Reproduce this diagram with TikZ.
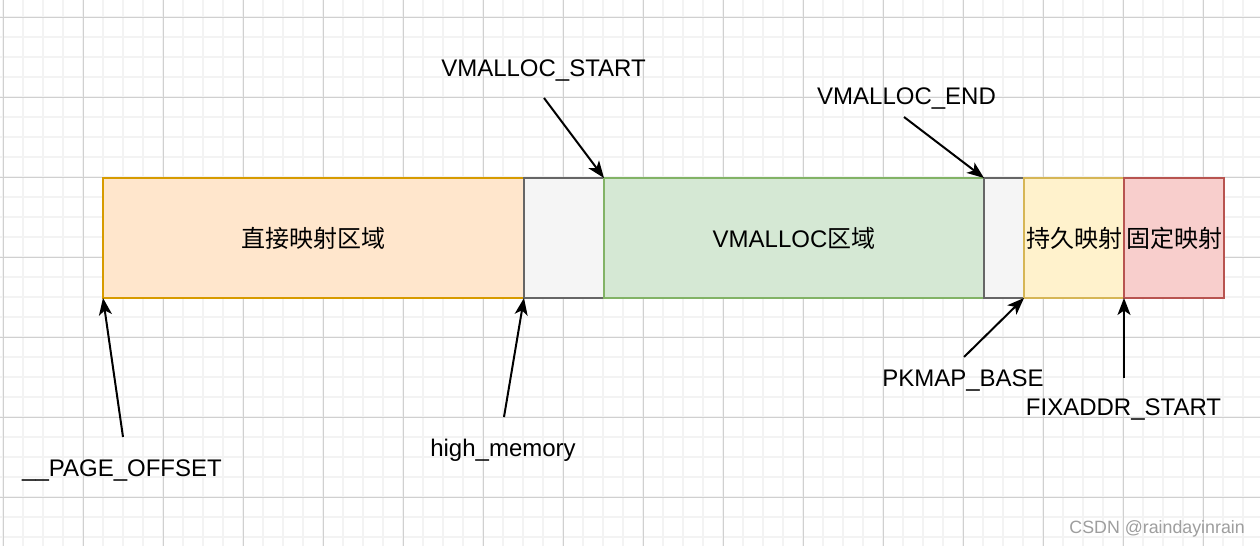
\documentclass[tikz,border=0pt]{standalone}
\usepackage{fontspec}
\setmainfont{Liberation Sans}
\newfontfamily\cjk{Noto Sans CJK SC}
\usetikzlibrary{arrows.meta}

\definecolor{orangeF}{HTML}{FFE6CC}\definecolor{orangeD}{HTML}{D79B00}
\definecolor{grayF}{HTML}{F5F5F5}\definecolor{grayD}{HTML}{666666}
\definecolor{greenF}{HTML}{D5E8D4}\definecolor{greenD}{HTML}{82B366}
\definecolor{yellowF}{HTML}{FFF2CC}\definecolor{yellowD}{HTML}{D6B656}
\definecolor{redF}{HTML}{F8CECC}\definecolor{redD}{HTML}{B85450}
\definecolor{gridminor}{HTML}{F3F3F3}\definecolor{gridmajor}{HTML}{D0D0D0}

\begin{document}
\begin{tikzpicture}[x=1pt, y=-1pt,
    region/.style={draw, line width=2pt, minimum height=120pt, anchor=north west,
        inner sep=0pt, outer sep=0pt, font=\fontsize{24}{28}\selectfont},
    tag/.style={anchor=base, inner sep=0pt, font=\fontsize{24}{28}\selectfont},
    ptr/.style={-{Stealth[length=17pt, width=13pt, inset=4.5pt]}, line width=2pt}
]
\useasboundingbox (0,0) rectangle (1260,546);
\fill[white] (0,0) rectangle (1260,546);

% grid
\foreach \x in {3,23,...,1263} \draw[gridminor, line width=1.5pt] (\x,0) -- (\x,546);
\foreach \y in {17,37,...,537} \draw[gridminor, line width=1.5pt] (0,\y) -- (1260,\y);
\foreach \x in {3,83,...,1203} \draw[gridmajor, line width=0.8pt] (\x,0) -- (\x,546);
\foreach \y in {17,97,...,497} \draw[gridmajor, line width=0.8pt] (0,\y) -- (1260,\y);

% regions
\node[region, fill=orangeF, draw=orangeD, minimum width=421pt] (direct) at (103,178) {\cjk 直接映射区域};
\node[region, fill=grayF, draw=grayD, minimum width=80pt] (gap1) at (524,178) {};
\node[region, fill=greenF, draw=greenD, minimum width=380pt] (vmalloc) at (604,178) {VMALLOC{\cjk 区域}};
\node[region, fill=grayF, draw=grayD, minimum width=40pt] (gap2) at (984,178) {};
\node[region, fill=yellowF, draw=yellowD, minimum width=100pt] (pkmap) at (1024,178) {\cjk 持久映射};
\node[region, fill=redF, draw=redD, minimum width=100pt] (fixmap) at (1124,178) {\cjk 固定映射};

% labels
\node[tag] (vstart) at (543.5,76) {VMALLOC\_START};
\node[tag] (vend) at (906.5,104) {VMALLOC\_END};
\node[tag] (pgoff) at (122,476) {\_\_PAGE\_OFFSET};
\node[tag] (highmem) at (503,456) {high\_memory};
\node[tag] (pkbase) at (963,386) {PKMAP\_BASE};
\node[tag] (fixstart) at (1123.5,415) {FIXADDR\_START};
\node[anchor=base east, inner sep=0pt, text=black!38, font=\fontsize{17.8}{20}\selectfont] (mark) at (1245,533) {CSDN @raindayinrain};

% pointers
\coordinate (vstartT) at (544,98);
\coordinate (vendT) at (904,117);
\coordinate (pgoffT) at (123,437);
\coordinate (highmemT) at (504,417);
\coordinate (pkbaseT) at (964,357);
\coordinate (fixstartT) at (1124,378);
\draw[ptr] (vstartT) -- (vmalloc.north west);
\draw[ptr] (vendT) -- (vmalloc.north east);
\draw[ptr] (pgoffT) -- (direct.south west);
\draw[ptr] (highmemT) -- (direct.south east);
\draw[ptr] (pkbaseT) -- (pkmap.south west);
\draw[ptr] (fixstartT) -- (fixmap.south west);
\end{tikzpicture}
\end{document}
